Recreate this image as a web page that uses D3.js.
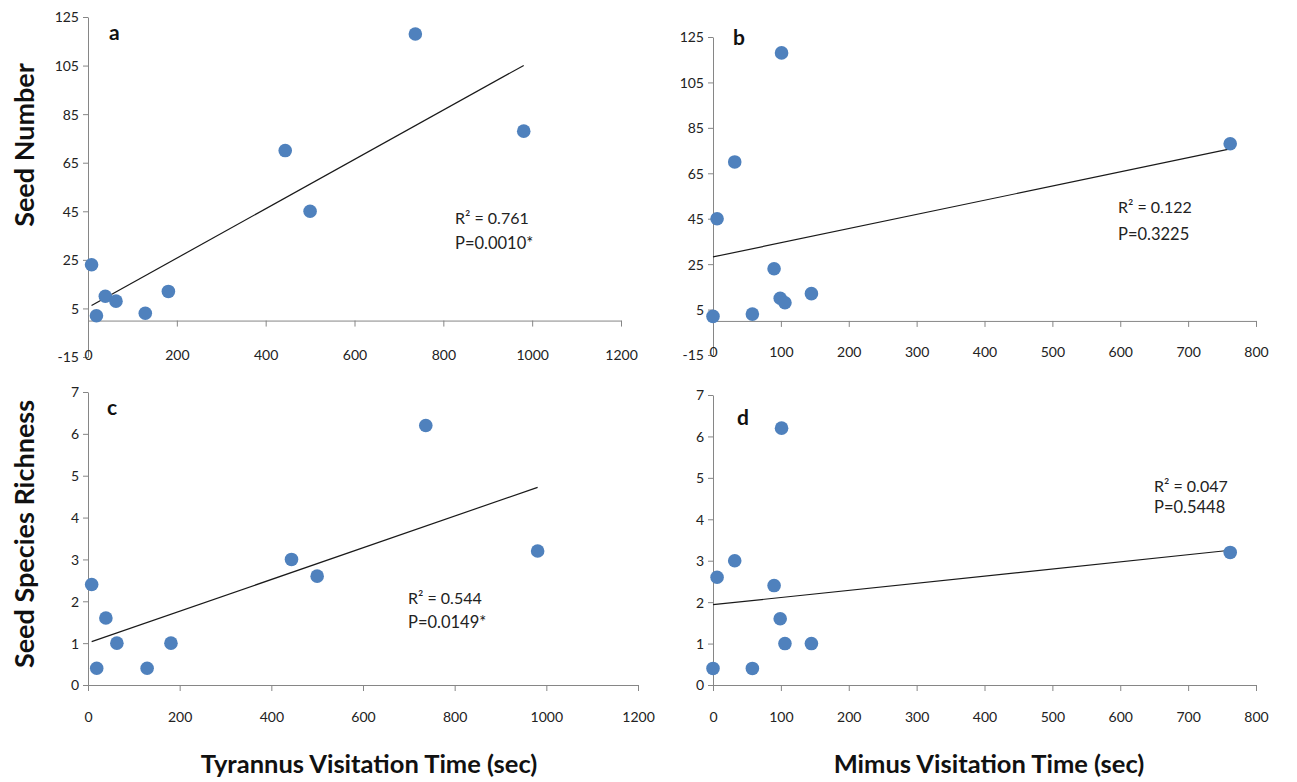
<!DOCTYPE html>
<html>
<head>
<meta charset="utf-8">
<script src="https://cdn.jsdelivr.net/npm/d3@7"></script>
<style>
  body { margin: 0; background: #fff; }
  svg { display: block; font-family: Lato, "Open Sans", sans-serif; }
  .axis path, .axis line { stroke: #868686; }
  .axis text { font-size: 14px; fill: #222; font-family: Lato, sans-serif; }
</style>
</head>
<body>
<svg id="chart" width="1297" height="782"></svg>
<script>
// site values (same 10 sites in every panel)
const tyrannusTime = [8, 19, 39, 63, 129, 181, 444, 500, 737, 981];
const mimusTime = [90, 0, 99, 106, 58, 145, 32, 6, 101, 762];
const seedNumber = [23, 2, 10, 8, 3, 12, 70, 45, 118, 78];
const seedRichness = [2.4, 0.4, 1.6, 1.0, 0.4, 1.0, 3.0, 2.6, 6.2, 3.2];

const seedTicks = [-15, 5, 25, 45, 65, 85, 105, 125];
const richnessTicks = [0, 1, 2, 3, 4, 5, 6, 7];
const tyrannusTicks = [0, 200, 400, 600, 800, 1000, 1200];
const mimusTicks = [0, 100, 200, 300, 400, 500, 600, 700, 800];

const panelLetters = ['a', 'b', 'c', 'd'];
const r2Labels = ['0.761', '0.122', '0.544', '0.047'];
const pLabels = ['P=0.0010*', 'P=0.3225', 'P=0.0149*', 'P=0.5448'];

const svg = d3.select('#chart');

//=========== least squares trend line ===========
function fit(xs, ys){
    const mx = d3.mean(xs), my = d3.mean(ys);
    let sxy = 0, sxx = 0;
    xs.forEach((x, i) => { sxy += (x - mx) * (ys[i] - my); sxx += (x - mx) * (x - mx); });
    const b = sxy / sxx;
    return { b: b, a: my - b * mx };
}

function drawPanel(p){
    const x = d3.scaleLinear().domain(d3.extent(p.xTicks)).range(p.xRange);
    const y = d3.scaleLinear().domain(d3.extent(p.yTicks)).range(p.yRange);
    const g = svg.append('g');

    // y axis
    g.append('g').attr('class', 'axis')
        .attr('transform', 'translate(' + p.xRange[0] + ',0)')
        .call(d3.axisLeft(y).tickValues(p.yTicks).tickFormat(d => String(d))
            .tickSize(5).tickPadding(4).tickSizeOuter(0))
        .selectAll('text').attr('dy', '0.35em');

    // x axis crosses at y = 0, labels sit at the bottom
    const x0 = y(0);
    const xa = g.append('g').attr('class', 'axis')
        .attr('transform', 'translate(0,' + x0 + ')')
        .call(d3.axisBottom(x).tickValues(p.xTicks).tickFormat(d => String(d))
            .tickSize(6).tickSizeOuter(0));
    xa.selectAll('text').attr('y', p.xLabelY - x0).attr('dy', '0.35em');

    // trend line over the data range
    const t = fit(p.xs, p.ys);
    const ext = d3.extent(p.xs);
    g.append('path')
        .attr('d', d3.line()(ext.map(v => [x(v), y(t.a + t.b * v)])))
        .attr('stroke', '#1a1a1a').attr('stroke-width', 1.2).attr('fill', 'none');

    // points
    g.selectAll('circle').data(p.xs).enter().append('circle')
        .attr('cx', d => x(d))
        .attr('cy', (d, i) => y(p.ys[i]))
        .attr('r', 6.8)
        .attr('fill', '#4f81bd');

    // panel letter
    g.append('text').attr('x', p.letter[0]).attr('y', p.letter[1])
        .attr('font-size', 21).attr('font-weight', 'bold').attr('fill', '#111')
        .text(panelLetters[p.idx]);

    // statistics
    g.append('text').attr('x', p.stat[0]).attr('y', p.stat[1])
        .attr('font-size', 16).attr('fill', '#222')
        .text('R² = ' + r2Labels[p.idx]);
    g.append('text').attr('x', p.stat[0]).attr('y', p.stat[1] + p.statGap)
        .attr('font-size', 16.5).attr('fill', '#222')
        .text(pLabels[p.idx]);
}

drawPanel({idx: 0, xs: tyrannusTime, ys: seedNumber, xTicks: tyrannusTicks, yTicks: seedTicks,
    xRange: [88, 621], yRange: [357, 17], xLabelY: 355, letter: [109, 40], stat: [455, 224], statGap: 25});
drawPanel({idx: 1, xs: mimusTime, ys: seedNumber, xTicks: mimusTicks, yTicks: seedTicks,
    xRange: [713, 1256], yRange: [355, 37], xLabelY: 352, letter: [733, 45], stat: [1118, 213], statGap: 27});
drawPanel({idx: 2, xs: tyrannusTime, ys: seedRichness, xTicks: tyrannusTicks, yTicks: richnessTicks,
    xRange: [88, 638], yRange: [685, 392], xLabelY: 717, letter: [107, 415], stat: [408, 604], statGap: 24});
drawPanel({idx: 3, xs: mimusTime, ys: seedRichness, xTicks: mimusTicks, yTicks: richnessTicks,
    xRange: [713, 1256], yRange: [685, 395], xLabelY: 717, letter: [737, 425], stat: [1154, 492], statGap: 21});

//=========== axis titles ===========
const title = (x, y, rot, size, txt) => svg.append('text')
    .attr('transform', 'translate(' + x + ',' + y + ')' + (rot ? ' rotate(-90)' : ''))
    .attr('text-anchor', 'middle').attr('font-weight', 'bold').attr('font-size', size)
    .attr('fill', '#111').text(txt);
title(34, 145, true, 27, 'Seed Number');
title(34, 534, true, 27, 'Seed Species Richness');
title(369, 773, false, 25.5, 'Tyrannus Visitation Time (sec)');
title(989, 773, false, 25.5, 'Mimus Visitation Time (sec)');
</script>
</body>
</html>
